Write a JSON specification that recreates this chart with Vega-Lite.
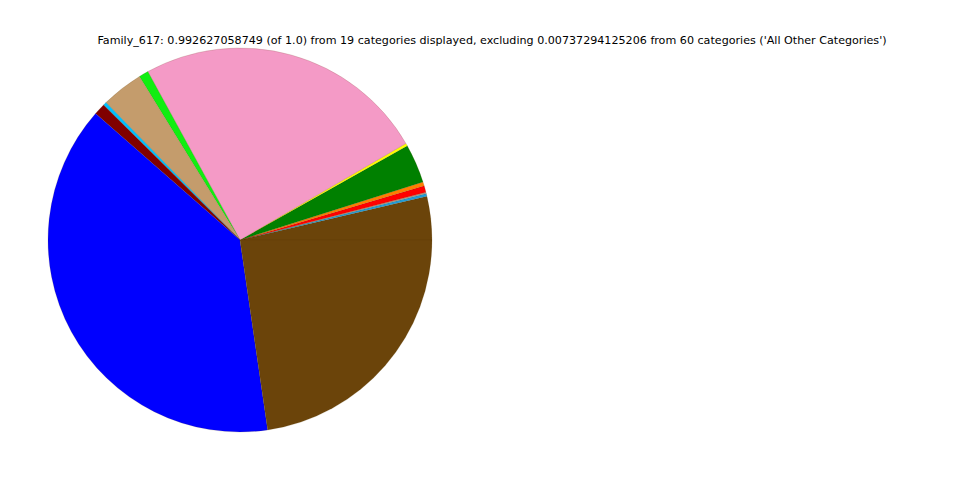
{
  "$schema": "https://vega.github.io/schema/vega-lite/v6.json",
  "width": 480,
  "height": 480,
  "autosize": {"type": "none"},
  "padding": {"left": 0, "top": 0, "right": 480, "bottom": 0},
  "background": "white",
  "title": {
    "text": "Family_617: 0.992627058749 (of 1.0) from 19 categories displayed, excluding 0.00737294125206 from 60 categories ('All Other Categories')",
    "font": "DejaVu Sans",
    "fontSize": 11.13,
    "fontWeight": "normal",
    "color": "black",
    "anchor": "middle",
    "dx": 252,
    "dy": 50
  },
  "data": {
    "values": [
      {"cat": "A", "idx": 1, "deg": 13.2},
      {"cat": "B", "idx": 2, "deg": 0.8},
      {"cat": "C", "idx": 3, "deg": 0.4},
      {"cat": "D", "idx": 4, "deg": 2.0},
      {"cat": "E", "idx": 5, "deg": 1.2},
      {"cat": "F", "idx": 6, "deg": 11.8},
      {"cat": "G", "idx": 7, "deg": 0.8},
      {"cat": "H", "idx": 8, "deg": 88.5},
      {"cat": "I", "idx": 9, "deg": 2.9},
      {"cat": "J", "idx": 10, "deg": 12.7},
      {"cat": "K", "idx": 11, "deg": 1.0},
      {"cat": "L", "idx": 12, "deg": 3.5},
      {"cat": "M", "idx": 13, "deg": 139.5},
      {"cat": "N", "idx": 14, "deg": 81.7}
    ]
  },
  "mark": {"type": "arc", "radius": 192, "stroke": "#5a3a08", "strokeWidth": 0.3, "strokeOpacity": 0.5},
  "encoding": {
    "theta": {
      "field": "deg",
      "type": "quantitative",
      "stack": true,
      "scale": {"range": [1.5707963, 7.8539816]}
    },
    "order": {"field": "idx", "type": "quantitative", "sort": "descending"},
    "color": {
      "field": "cat",
      "type": "nominal",
      "legend": null,
      "scale": {
        "domain": ["A","B","C","D","E","F","G","H","I","J","K","L","M","N"],
        "range": ["#6b440a","#1f9edc","#b0a090","#ff0000","#ff7f00","#008000","#ffff00","#f49ac6","#11ee11","#c49c6c","#00bfff","#800000","#0000ff","#6b440a"]
      }
    }
  }
}
